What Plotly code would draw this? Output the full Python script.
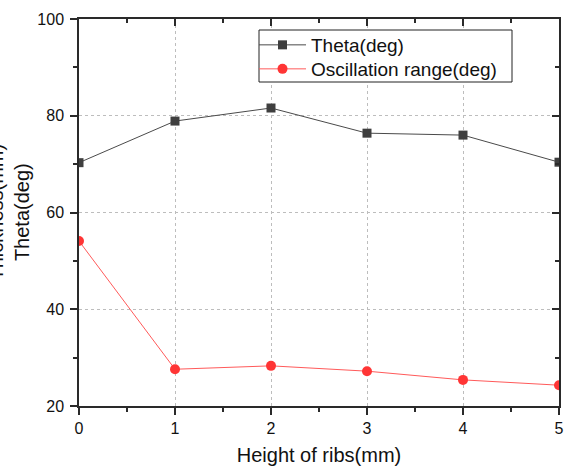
import plotly.graph_objects as go

heights = [0, 1, 2, 3, 4, 5]
theta = [70.3, 78.9, 81.6, 76.4, 76.0, 70.4]
osc_range = [54.1, 27.6, 28.3, 27.2, 25.4, 24.3]
x_ticks = [0, 1, 2, 3, 4, 5]
y_ticks = [20, 40, 60, 80, 100]

FONT = "Liberation Sans, Arial, sans-serif"
W, H = 569, 470
L, R, T, B = 79, 10, 19, 64
PW, PH = W - L - R, H - T - B


def px(x):
    return (x - L) / PW


def py(y):
    return (H - B - y) / PH


fig = go.Figure()
fig.add_trace(go.Scatter(
    x=heights, y=theta, mode="lines+markers", name="Theta(deg)",
    line=dict(color="#4a4a4a", width=1),
    marker=dict(symbol="square", size=9, color="#3f3f3f"),
    legend="legend",
))
fig.add_trace(go.Scatter(
    x=heights, y=osc_range, mode="lines+markers", name="Oscillation range(deg)",
    line=dict(color="#ff5a5a", width=1),
    marker=dict(symbol="circle", size=10, color="#ff3535"),
    legend="legend2",
))
# carrier for the top/right frame axes (not visible)
fig.add_trace(go.Scatter(
    x=heights, y=theta, mode="lines", xaxis="x2", yaxis="y2",
    line=dict(width=0, color="rgba(0,0,0,0)"), opacity=0,
    showlegend=False, hoverinfo="skip",
))

axis_common = dict(
    showline=True, linecolor="#2a2a2a", linewidth=1.5,
    ticks="outside", ticklen=7, tickwidth=1.5, tickcolor="#2a2a2a",
    tickfont=dict(family=FONT, size=16, color="#111"),
    zeroline=False, automargin=False, mirror=True,
)

legend_common = dict(
    xanchor="left", yanchor="middle",
    bgcolor="rgba(0,0,0,0)", borderwidth=0,
    font=dict(family=FONT, size=19, color="#111"),
    itemwidth=47,
)

fig.update_layout(
    width=W, height=H,
    margin=dict(l=L, r=R, t=T, b=B, autoexpand=False),
    paper_bgcolor="white", plot_bgcolor="white",
    font=dict(family=FONT, color="#111"),
    xaxis=dict(
        range=[0, 5], tickvals=x_ticks, **axis_common,
        showgrid=True, gridcolor="#bdbdbd", griddash="3px,3px", gridwidth=1,
        minor=dict(dtick=0.5, ticks="outside", ticklen=4, tickwidth=1.5,
                   tickcolor="#2a2a2a", showgrid=False),
        title=dict(text="Height of ribs(mm)", font=dict(family=FONT, size=20, color="#111"),
                   standoff=12),
    ),
    yaxis=dict(
        range=[20, 100], tickvals=y_ticks, **axis_common,
        showgrid=True, gridcolor="#bdbdbd", griddash="3px,3px", gridwidth=1,
        ticklabelstandoff=3,
        minor=dict(dtick=10, tick0=20, ticks="outside", ticklen=4, tickwidth=1.5,
                   tickcolor="#2a2a2a", showgrid=False),
    ),
    xaxis2=dict(
        overlaying="x", side="top", anchor="y2", range=[0, 5], tickvals=x_ticks,
        showline=True, linecolor="#2a2a2a", linewidth=1.5,
        ticks="inside", ticklen=7, tickwidth=1.5, tickcolor="#2a2a2a",
        showticklabels=False, showgrid=False, zeroline=False, automargin=False,
        minor=dict(dtick=0.5, ticks="inside", ticklen=4, tickwidth=1.5, tickcolor="#2a2a2a"),
    ),
    yaxis2=dict(
        overlaying="y", side="right", anchor="x2", range=[20, 100], tickvals=y_ticks,
        showline=True, linecolor="#2a2a2a", linewidth=1.5,
        ticks="inside", ticklen=7, tickwidth=1.5, tickcolor="#2a2a2a",
        showticklabels=False, showgrid=False, zeroline=False, automargin=False,
        minor=dict(dtick=10, tick0=20, ticks="inside", ticklen=4, tickwidth=1.5, tickcolor="#2a2a2a"),
    ),
    legend=dict(x=px(254), y=py(45), **legend_common),
    legend2=dict(x=px(254), y=py(69), **legend_common),
    showlegend=True,
    hovermode=False,
)

# legend frame
fig.add_shape(
    type="rect", xref="paper", yref="paper",
    x0=px(259), x1=px(512), y0=py(82), y1=py(30),
    line=dict(color="#222", width=1), fillcolor="white", layer="above",
)

fig.add_annotation(
    text="Thickness(mm)<br>Theta(deg)", textangle=-90,
    xref="paper", yref="paper", x=px(8), y=0.5,
    xanchor="center", yanchor="middle", showarrow=False,
    font=dict(family=FONT, size=20, color="#111"),
)

fig.write_html(
    "out.html",
    config={"displayModeBar": False},
    post_script="document.body.style.margin='0';document.body.style.overflow='hidden';",
)
